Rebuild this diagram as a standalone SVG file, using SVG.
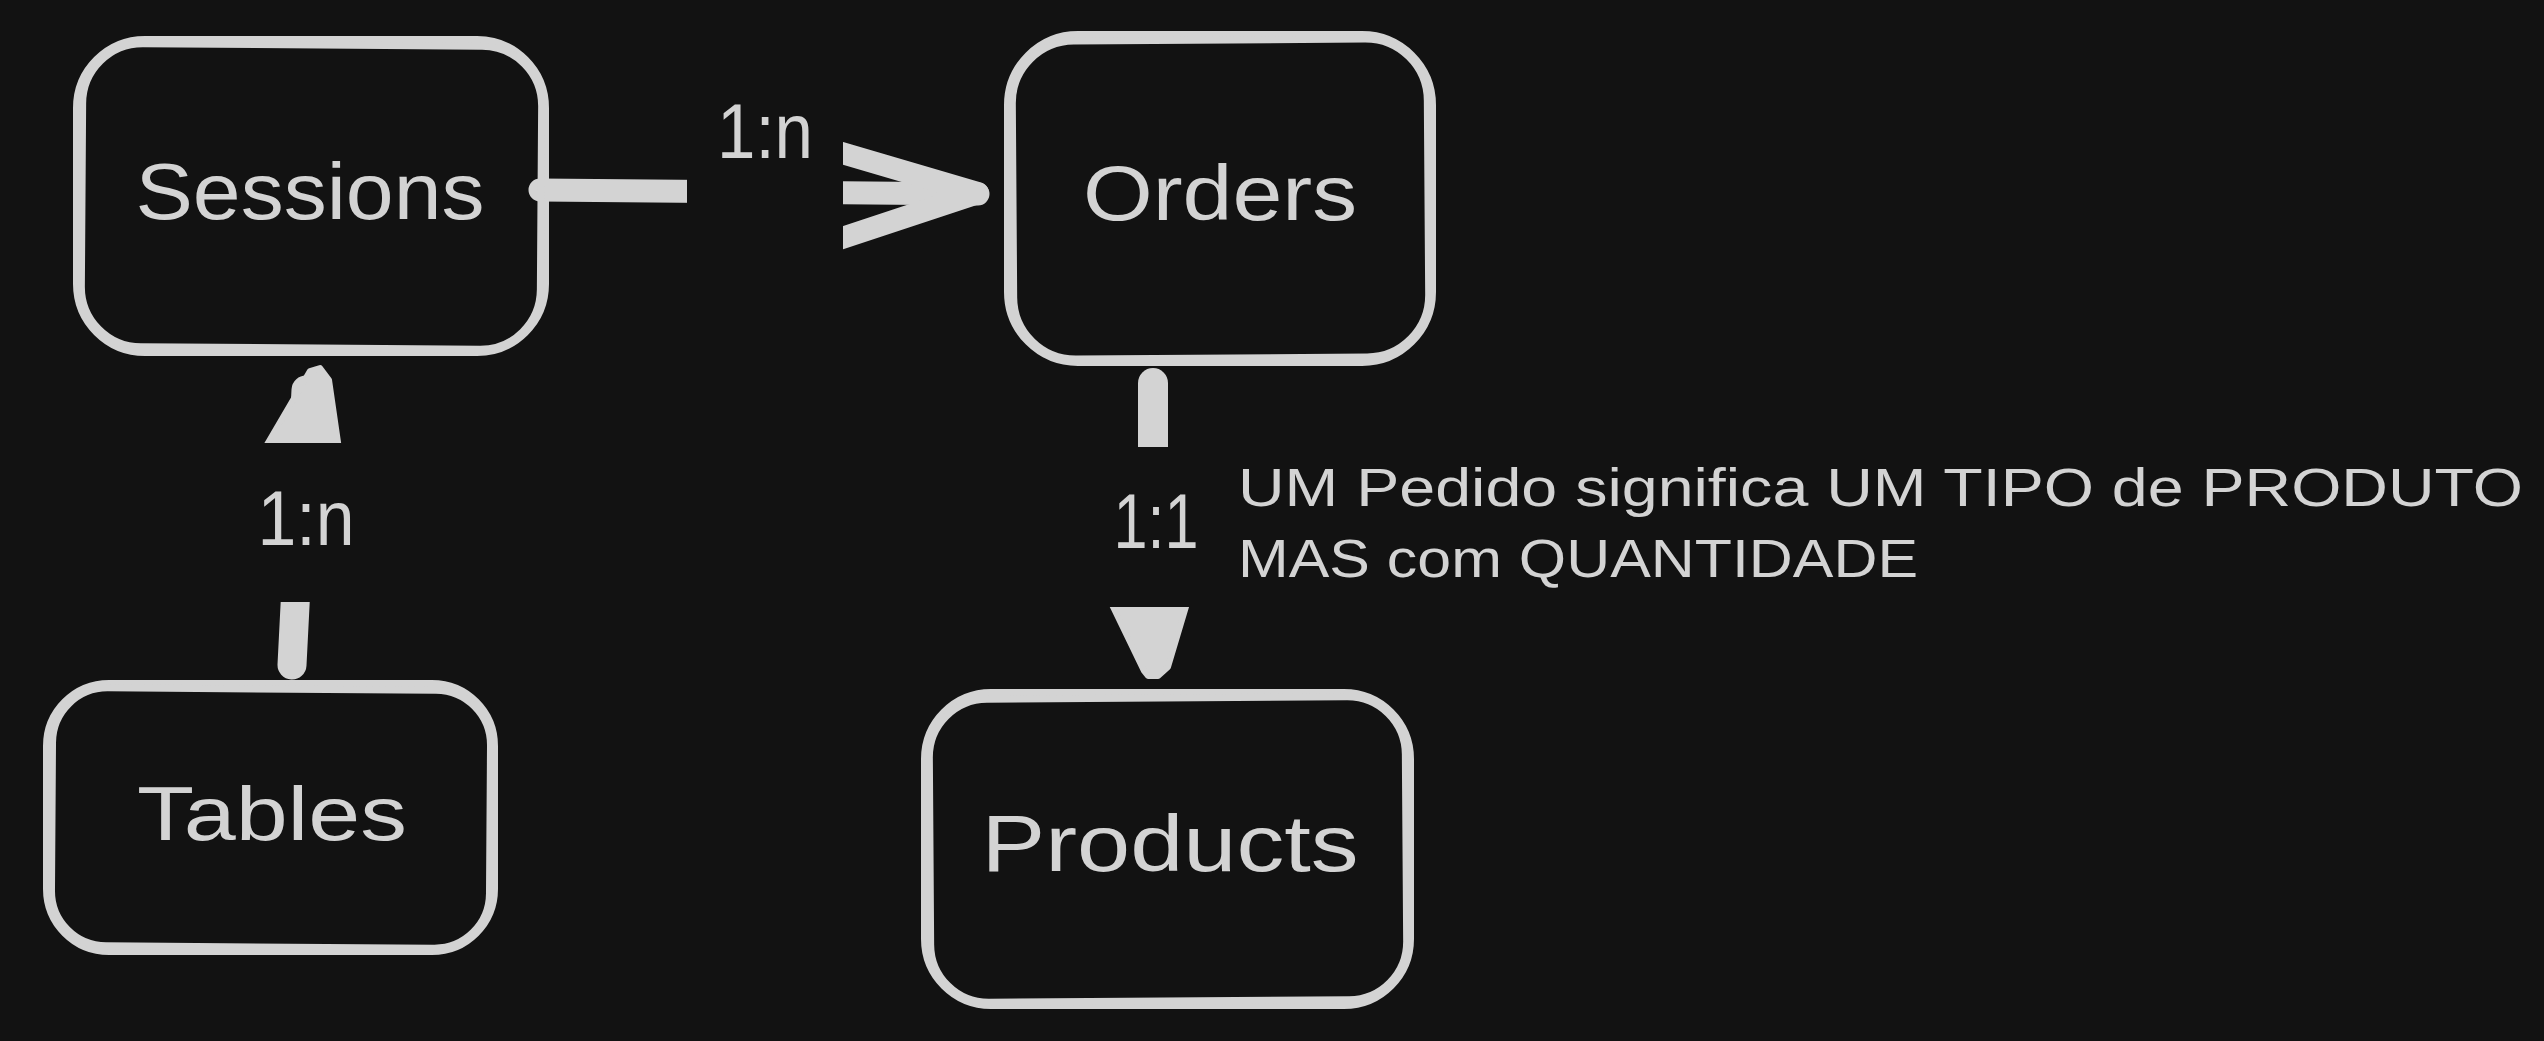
<svg xmlns="http://www.w3.org/2000/svg" width="2544" height="1041" viewBox="0 0 2544 1041">
<style>
.box{fill:none;stroke:#d3d3d3;stroke-width:8;stroke-linejoin:round}
.box2{fill:none;stroke:#d3d3d3;stroke-width:7;stroke-linejoin:round}
.lbl{font-family:"Liberation Sans",Arial,sans-serif;fill:#d3d3d3;text-anchor:middle}
.note{font-family:"Liberation Sans",Arial,sans-serif;fill:#d3d3d3;font-size:53px}
.ln{fill:none;stroke:#d3d3d3;stroke-linecap:round;stroke-linejoin:round}
.head{fill:#d3d3d3;stroke:#d3d3d3;stroke-width:6;stroke-linejoin:round}
</style>
<defs>
<mask id="gaps" maskUnits="userSpaceOnUse" x="0" y="0" width="2544" height="1041">
<rect x="0" y="0" width="2544" height="1041" fill="#fff"/>
<rect x="687" y="95" width="156" height="175" fill="#000"/>
<rect x="200" y="443" width="200" height="159" fill="#000"/>
<rect x="1080" y="447" width="160" height="160" fill="#000"/>
</mask>
</defs>
<rect x="0" y="0" width="2544" height="1041" fill="#121212"/>

<g id="connectors" mask="url(#gaps)">
<path class="ln" stroke-width="23" d="M 540,190 L 978,194"/>
<path class="ln" stroke-width="22" d="M 818,146 L 978,193 L 818,246"/>
<path class="ln" stroke-width="29" d="M 292,665 L 306,390"/>
<polygon class="head" points="252,470 342,470 329,380 320,368 310,371"/>
<path class="ln" stroke-width="30" d="M 1153,383 L 1153,470"/>
<polygon class="head" points="1100,580 1194,580 1168,667 1158,676 1148,676 1144,671"/>
</g>

<g id="labels">
<text class="lbl" x="765" y="158" font-size="78" textLength="96" lengthAdjust="spacingAndGlyphs">1:n</text>
<text class="lbl" x="306" y="545" font-size="78" textLength="97" lengthAdjust="spacingAndGlyphs">1:n</text>
<text class="lbl" x="1156" y="548" font-size="78" textLength="85" lengthAdjust="spacingAndGlyphs">1:1</text>
</g>

<g id="sessions">
<rect class="box" x="77" y="40" width="468" height="312" rx="68"/>
<rect class="box2" x="82" y="45" width="459" height="303" rx="60" transform="rotate(0.4 311 197)"/>
<text class="lbl" x="310" y="219" font-size="80" textLength="349" lengthAdjust="spacingAndGlyphs">Sessions</text>
</g>

<g id="orders">
<rect class="box" x="1008" y="35" width="424" height="327" rx="70"/>
<rect class="box2" x="1013" y="40" width="415" height="318" rx="62" transform="rotate(-0.4 1220 199)"/>
<text class="lbl" x="1220" y="220" font-size="78" textLength="274" lengthAdjust="spacingAndGlyphs">Orders</text>
</g>

<g id="tables">
<rect class="box" x="47" y="684" width="447" height="267" rx="62"/>
<rect class="box2" x="52" y="689" width="438" height="258" rx="55" transform="rotate(0.4 271 818)"/>
<text class="lbl" x="272" y="840" font-size="76" textLength="270" lengthAdjust="spacingAndGlyphs">Tables</text>
</g>

<g id="products">
<rect class="box" x="925" y="693" width="485" height="312" rx="66"/>
<rect class="box2" x="930" y="698" width="476" height="303" rx="58" transform="rotate(-0.4 1168 849)"/>
<text class="lbl" x="1170" y="871" font-size="80" textLength="377" lengthAdjust="spacingAndGlyphs">Products</text>
</g>

<g id="note">
<text class="note" x="1238" y="506" textLength="1285" lengthAdjust="spacingAndGlyphs">UM Pedido significa UM TIPO de PRODUTO</text>
<text class="note" x="1238" y="577" textLength="680" lengthAdjust="spacingAndGlyphs">MAS com QUANTIDADE</text>
</g>
</svg>
